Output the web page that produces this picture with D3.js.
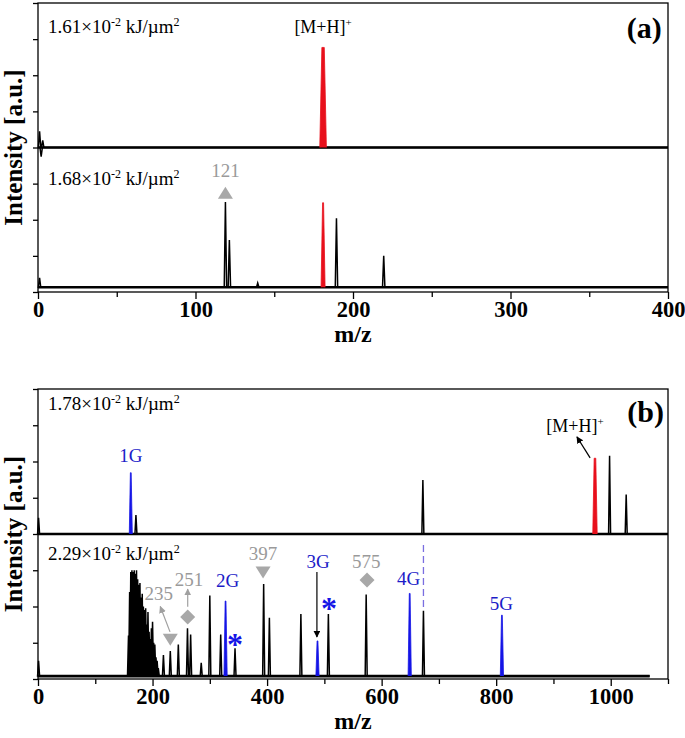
<!DOCTYPE html>
<html><head><meta charset="utf-8">
<script src="https://cdn.jsdelivr.net/npm/d3@7"></script>
<style>body{margin:0;background:#fff}</style>
</head><body><svg id="c" width="685" height="738"></svg>
<script>
// ================= DATA =================
const xDomainA = [0, 400];
const xDomainB = [0, 1100];
const xMajorA = [0, 100, 200, 300, 400];
const xMinorA = [50, 150, 250, 350];
const xMajorB = [0, 200, 400, 600, 800, 1000];
const xMinorB = [100, 300, 500, 700, 900, 1100];
const yTickValues = [0, 1, 2, 3, 4, 5, 6, 7, 8];

// panel (a) upper spectrum: 1.61e-2 kJ/um2  [m/z, intensity top]
const aUpperBase = 4.0;
const aUpperBlack = [[1, 4.45], [2, 3.75], [3, 4.2]];
const aUpperRed = [[181, 6.77]];
// panel (a) lower spectrum: 1.68e-2 kJ/um2
const aLowerBase = 0.13;
const aLowerBlack = [[1, 0.39], [119, 2.49], [121.5, 1.44], [139.5, 0.25], [189.5, 2.04], [219.5, 1.0]];
const aLowerRed = [[181, 2.47]];

// panel (b) upper spectrum: 1.78e-2 kJ/um2
const bUpperBase = 4.0;
const bUpperBlack = [[1, 4.45], [171, 4.52], [672, 5.49], [998, 6.16], [1027, 5.09]];
const bUpperBlue = [[162, 5.69]];
const bUpperRed = [[972.5, 6.09]];
// panel (b) lower spectrum: 2.29e-2 kJ/um2
const bLowerBase = 0.08;
const bLowerEnd = 1068;
const bLowerCluster = [[158, 1.2], [160, 2.4], [162, 2.95], [164, 3.0], [166, 2.95], [168, 3.0], [170, 2.9],
  [172, 3.0], [174, 2.75], [176, 2.6], [178, 2.65], [180, 2.25], [182, 2.35], [184, 2.0], [186, 1.9],
  [188, 1.95], [190, 1.5], [192, 1.85], [194, 1.3], [196, 1.1], [198, 1.4], [200, 1.58], [202, 1.0],
  [204, 0.95], [206, 0.6], [208, 0.5], [210, 0.3]];
const bLowerBlack = [[1, 0.5], [219, 0.66], [231, 0.77], [245, 0.95], [261, 1.40], [266.5, 1.23], [285, 0.45],
  [300, 2.30], [319, 1.23], [344, 0.85], [394, 2.62], [404, 1.69], [459, 1.79], [507, 1.79], [573, 2.33], [673, 1.88]];
const bLowerBlue = [[327.5, 2.15], [488, 1.05], [649, 2.36], [810, 1.76]];

// text
const fluenceA = ["1.61", "1.68"];
const fluenceB = ["1.78", "2.29"];
const exponentText = "-2";
const yTitle = "Intensity [a.u.]";
const xTitle = "m/z";

// annotations (data coordinates: m/z, intensity)
const annA = [
  {type: "fluence", mant: fluenceA[0], mz: 6.3, v: 7.17},
  {type: "fluence", mant: fluenceA[1], mz: 6.3, v: 2.96},
  {type: "mh", mz: 181, v: 7.17},
  {type: "panel", text: "(a)", mz: 396, v: 7.03},
  {type: "label", text: "121", color: "gray", mz: 119, v: 3.18},
  {type: "triUp", mz: 119, v: 2.75}
];
const annB = [
  {type: "fluence", mant: fluenceB[0], mz: 17.5, v: 7.42},
  {type: "fluence", mant: fluenceB[1], mz: 17.5, v: 3.28},
  {type: "panel", text: "(b)", mz: 1093, v: 7.09},
  {type: "mh", mz: 937.7, v: 6.81},
  {type: "arrow", color: "black", from: [964, 6.1], to: [941, 6.68]},
  {type: "label", text: "1G", color: "blue", mz: 162, v: 5.99},
  {type: "label", text: "235", color: "gray", mz: 211, v: 2.18},
  {type: "arrow", color: "gray", from: [230.5, 1.3], to: [213.5, 2.0]},
  {type: "triDown", mz: 231, v: 1.08},
  {type: "label", text: "251", color: "gray", mz: 263.7, v: 2.57},
  {type: "arrow", color: "gray", from: [261.4, 1.99], to: [261.4, 2.48]},
  {type: "diamond", mz: 261.4, v: 1.71},
  {type: "label", text: "2G", color: "blue", mz: 331, v: 2.54},
  {type: "star", mz: 344, v: 1.08},
  {type: "label", text: "397", color: "gray", mz: 393, v: 3.28},
  {type: "triDown", mz: 393, v: 2.94},
  {type: "label", text: "3G", color: "blue", mz: 489, v: 3.06},
  {type: "arrow", color: "black", from: [487, 2.95], to: [487, 1.16]},
  {type: "star", mz: 508, v: 2.06},
  {type: "label", text: "575", color: "gray", mz: 573, v: 3.06},
  {type: "diamond", mz: 574.5, v: 2.73},
  {type: "label", text: "4G", color: "blue", mz: 647, v: 2.59},
  {type: "dashed", mz: 673, v0: 3.70, v1: 1.90},
  {type: "label", text: "5G", color: "blue", mz: 809, v: 1.90}
];

// ================= DRAWING =================
const FONT = "'Liberation Serif','Times New Roman',Times,serif";
const COL = {black: "#000", red: "#e8101c", blue: "#1414e6", blueText: "#1c1cc8", gray: "#9a9a9a", marker: "#a8a8a8", dash: "#7a6ee0"};
const svg = d3.select("#c");
const defs = svg.append("defs");
[["black", "#000"], ["gray", "#a0a0a0"]].forEach(([k, c]) => {
  defs.append("marker").attr("id", "ah-" + k).attr("viewBox", "0 0 10 10").attr("refX", 9).attr("refY", 5)
    .attr("markerWidth", 7).attr("markerHeight", 7).attr("markerUnits", "userSpaceOnUse").attr("orient", "auto")
    .append("path").attr("d", "M0,0 L10,5 L0,10 Z").attr("fill", c);
});

function drawPanel(cfg) {
  const x = d3.scaleLinear().domain(cfg.xDomain).range([38, 668]);
  const y = d3.scaleLinear().domain([0, 8]).range([cfg.bottom, cfg.top]);
  const g = svg.append("g");

  // x axis
  const axM = g.append("g").attr("transform", `translate(0,${cfg.bottom})`)
    .call(d3.axisBottom(x).tickValues(cfg.xMajor).tickSize(7).tickPadding(2).tickFormat(d3.format("d")));
  const axm = g.append("g").attr("transform", `translate(0,${cfg.bottom})`)
    .call(d3.axisBottom(x).tickValues(cfg.xMinor).tickSize(5).tickFormat(""));
  [axM, axm].forEach(a => { a.select(".domain").remove(); a.selectAll("line").attr("stroke", "#000").attr("stroke-width", 1.3); });
  axM.selectAll("text").attr("font-family", FONT).attr("font-size", 22.5).attr("font-weight", "bold").attr("fill", "#000");
  // y axis
  const ay = g.append("g").attr("transform", "translate(38,0)")
    .call(d3.axisLeft(y).tickValues(yTickValues).tickSize(5).tickFormat(""));
  ay.select(".domain").remove();
  ay.selectAll("line").attr("stroke", "#000").attr("stroke-width", 1.3);

  // traces
  const line = d3.line().x(d => d.px).y(d => y(d.v));
  function trace(base, peaks, end, hw) {
    const pts = [{px: x(cfg.xDomain[0]) + 0.5, v: base}];
    peaks.slice().sort((a, b) => a[0] - b[0]).forEach(([m, h]) => {
      pts.push({px: x(m) - hw, v: base}, {px: x(m), v: h}, {px: x(m) + hw, v: base});
    });
    pts.push({px: x(end), v: base});
    g.append("line").attr("x1", x(cfg.xDomain[0])).attr("x2", x(end)).attr("y1", y(base)).attr("y2", y(base))
      .attr("stroke", "#000").attr("stroke-width", 2.6);
    g.append("path").attr("d", line(pts)).attr("fill", "none").attr("stroke", "#000")
      .attr("stroke-width", 1.5).attr("stroke-linejoin", "miter").attr("stroke-miterlimit", 4);
  }
  function colored(base, peaks, color, hw, tw) {
    peaks.forEach(([m, h]) => {
      const pts = [{px: x(m) - hw, v: base}, {px: x(m) - tw, v: h}, {px: x(m) + tw, v: h}, {px: x(m) + hw, v: base}];
      g.append("path").attr("d", line(pts)).attr("fill", color).attr("stroke", color).attr("stroke-width", 0.8);
    });
  }
  cfg.traces.forEach(t => {
    trace(t.base, t.black, t.end, t.hw);
    (t.colored || []).forEach(c => colored(t.base, c.peaks, c.color, c.hw, c.tw));
  });

  // frame
  g.append("rect").attr("x", 38).attr("y", cfg.top).attr("width", 630).attr("height", cfg.bottom - cfg.top)
    .attr("fill", "none").attr("stroke", "#000").attr("stroke-width", 1.3);

  // titles
  g.append("text").attr("transform", `translate(22,${(cfg.top + cfg.bottom) / 2}) rotate(-90)`)
    .attr("text-anchor", "middle").attr("font-family", FONT).attr("font-weight", "bold").attr("font-size", 25).text(yTitle);
  g.append("text").attr("x", (38 + 668) / 2).attr("y", cfg.xTitleY).attr("text-anchor", "middle")
    .attr("font-family", FONT).attr("font-weight", "bold").attr("font-size", 24).text(xTitle);

  // annotations
  cfg.ann.forEach(a => {
    if (a.type === "fluence") {
      const t = g.append("text").attr("x", x(a.mz)).attr("y", y(a.v)).attr("font-family", FONT).attr("font-size", 19).attr("fill", "#000");
      t.append("tspan").text(a.mant + "×10");
      t.append("tspan").attr("dy", -7).attr("font-size", 12).text(exponentText);
      t.append("tspan").attr("dy", 7).text(" kJ/µm");
      t.append("tspan").attr("dy", -7).attr("font-size", 12).text("2");
    } else if (a.type === "mh") {
      const t = g.append("text").attr("x", x(a.mz)).attr("y", y(a.v)).attr("text-anchor", "middle")
        .attr("font-family", FONT).attr("font-size", 18).attr("fill", "#000");
      t.append("tspan").text("[M+H]");
      t.append("tspan").attr("dy", -7).attr("font-size", 11).text("+");
    } else if (a.type === "panel") {
      g.append("text").attr("x", x(a.mz)).attr("y", y(a.v)).attr("text-anchor", "end")
        .attr("font-family", FONT).attr("font-weight", "bold").attr("font-size", 30).text(a.text);
    } else if (a.type === "label") {
      g.append("text").attr("x", x(a.mz)).attr("y", y(a.v)).attr("text-anchor", "middle")
        .attr("font-family", FONT).attr("font-size", 19)
        .attr("fill", a.color === "blue" ? COL.blueText : COL.gray).text(a.text);
    } else if (a.type === "triUp" || a.type === "triDown") {
      const cx = x(a.mz), cy = y(a.v), w = 7.5, h = 6;
      const d = a.type === "triUp"
        ? `M${cx - w},${cy + h}L${cx + w},${cy + h}L${cx},${cy - h}Z`
        : `M${cx - w},${cy - h}L${cx + w},${cy - h}L${cx},${cy + h}Z`;
      g.append("path").attr("d", d).attr("fill", COL.marker);
    } else if (a.type === "diamond") {
      const cx = x(a.mz), cy = y(a.v), r = 7.5;
      g.append("path").attr("d", `M${cx},${cy - r}L${cx + r},${cy}L${cx},${cy + r}L${cx - r},${cy}Z`).attr("fill", COL.marker);
    } else if (a.type === "star") {
      g.append("text").attr("x", x(a.mz)).attr("y", y(a.v) + 15).attr("text-anchor", "middle")
        .attr("font-family", FONT).attr("font-weight", "bold").attr("font-size", 32).attr("fill", COL.blue).text("*");
    } else if (a.type === "arrow") {
      g.append("line").attr("x1", x(a.from[0])).attr("y1", y(a.from[1])).attr("x2", x(a.to[0])).attr("y2", y(a.to[1]))
        .attr("stroke", a.color === "gray" ? "#a0a0a0" : "#000").attr("stroke-width", 1.2)
        .attr("marker-end", `url(#ah-${a.color})`);
    } else if (a.type === "dashed") {
      g.append("line").attr("x1", x(a.mz)).attr("x2", x(a.mz)).attr("y1", y(a.v0)).attr("y2", y(a.v1))
        .attr("stroke", COL.dash).attr("stroke-width", 1.3).attr("stroke-dasharray", "7,4");
    }
  });
}

drawPanel({
  xDomain: xDomainA, xMajor: xMajorA, xMinor: xMinorA, top: 3, bottom: 292, xTitleY: 342, ann: annA,
  traces: [
    {base: aUpperBase, black: aUpperBlack, end: 400, hw: 1.2, colored: [{peaks: aUpperRed, color: COL.red, hw: 3.3, tw: 1.2}]},
    {base: aLowerBase, black: aLowerBlack, end: 400, hw: 1.2, colored: [{peaks: aLowerRed, color: COL.red, hw: 2.0, tw: 0.5}]}
  ]
});
drawPanel({
  xDomain: xDomainB, xMajor: xMajorB, xMinor: xMinorB, top: 389, bottom: 679, xTitleY: 729, ann: annB,
  traces: [
    {base: bUpperBase, black: bUpperBlack, end: 1100, hw: 1.0, colored: [
      {peaks: bUpperBlue, color: COL.blue, hw: 1.5, tw: 0.4},
      {peaks: bUpperRed, color: COL.red, hw: 2.2, tw: 0.8}]},
    {base: bLowerBase, black: bLowerCluster.concat(bLowerBlack), end: bLowerEnd, hw: 1.0, colored: [
      {peaks: bLowerBlue, color: COL.blue, hw: 1.6, tw: 0.4}]}
  ]
});
</script></body></html>
